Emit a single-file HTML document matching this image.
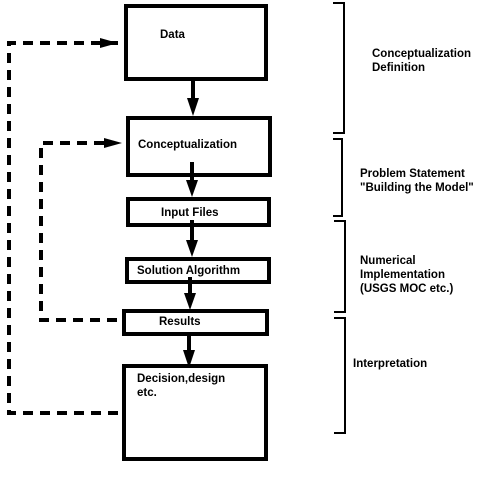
<!DOCTYPE html>
<html><head><style>
body{margin:0;background:#fff;width:485px;height:476px;overflow:hidden}
svg text{font-family:"Liberation Sans",sans-serif;font-weight:bold;font-size:11.5px;fill:#000}
</style></head><body>
<svg width="485" height="476" viewBox="0 0 485 476">
<g fill="none" stroke="#000" stroke-width="4">
<rect x="126" y="6" width="140" height="73"/>
<rect x="128" y="118" width="142" height="57"/>
<rect x="128" y="199" width="141" height="26"/>
<rect x="127" y="259" width="142" height="23"/>
<rect x="124" y="311" width="143" height="23"/>
<rect x="124" y="366" width="142" height="93"/>
</g>
<g stroke="#000" stroke-width="4">
<line x1="193" y1="79" x2="193" y2="100"/>
<line x1="192" y1="162" x2="192" y2="182"/>
<line x1="192" y1="220" x2="192" y2="242"/>
<line x1="190" y1="277" x2="190" y2="295"/>
<line x1="189" y1="333" x2="189" y2="352"/>
</g>
<g fill="#000">
<polygon points="187,98 199,98 193,116"/>
<polygon points="186,180 198,180 192,197"/>
<polygon points="186,240 198,240 192,257"/>
<polygon points="184,293 196,293 190,310"/>
<polygon points="183,350 195,350 189,368"/>
<polygon points="100,38 100,48 118,43"/>
<polygon points="104,138 104,148 122,143"/>
</g>
<g fill="none" stroke="#000" stroke-width="4" stroke-dasharray="10,7">
<polyline points="118,43 9,43 9,413 120,413"/>
<polyline points="104,143 41,143 41,320 120,320"/>
</g>
<g fill="none" stroke="#000" stroke-width="2">
<polyline points="333,3 344,3 344,133 333,133"/>
<polyline points="333,139 342,139 342,216 333,216"/>
<polyline points="334,221 345,221 345,312 334,312"/>
<polyline points="334,318 345,318 345,433 334,433"/>
</g>
<text x="160" y="38">Data</text>
<text x="138" y="148">Conceptualization</text>
<text x="161" y="216">Input Files</text>
<text x="137" y="274">Solution Algorithm</text>
<text x="159" y="325">Results</text>
<text x="137" y="382">Decision,design</text>
<text x="137" y="396">etc.</text>
<text x="372" y="57">Conceptualization</text>
<text x="372" y="71">Definition</text>
<text x="360" y="177">Problem Statement</text>
<text x="360" y="191">"Building the Model"</text>
<text x="360" y="264">Numerical</text>
<text x="360" y="278">Implementation</text>
<text x="360" y="292">(USGS MOC etc.)</text>
<text x="353" y="367">Interpretation</text>
</svg>
</body></html>
